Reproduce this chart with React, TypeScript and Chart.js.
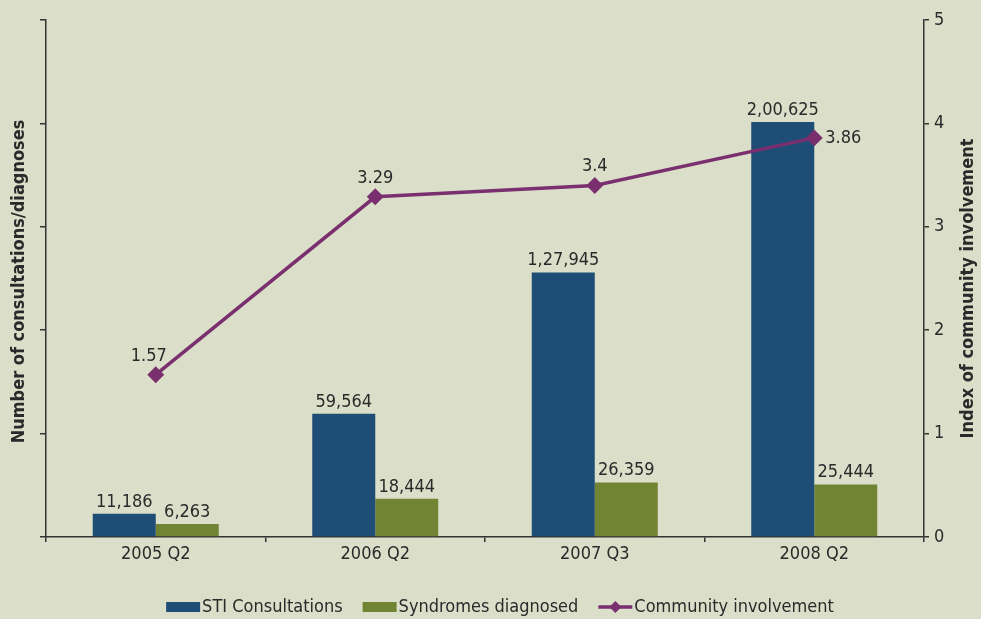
import React, { useEffect, useRef } from "react";
import { Chart, registerables } from "chart.js";

Chart.register(...registerables);

const categories = ["2005 Q2", "2006 Q2", "2007 Q3", "2008 Q2"];
const stiConsultations = [11186, 59564, 127945, 200625];
const syndromesDiagnosed = [6263, 18444, 26359, 25444];
const communityInvolvement = [1.57, 3.29, 3.4, 3.86];
const leftAxis = { min: 0, max: 250000, step: 50000 };
const rightAxis = { min: 0, max: 5, step: 1 };
const seriesNames = ["STI Consultations", "Syndromes diagnosed", "Community involvement"];
const axisTitles = ["Number of consultations/diagnoses", "Index of community involvement"];

const BG = "#dbdec9";
const BLUE = "#1e4d76";
const GREEN = "#718434";
const PURPLE = "#7a2f6e";
const TEXT = "#2a2a2a";
const AXIS = "#333333";
const FONT = "'DejaVu Sans Condensed', 'DejaVu Sans', sans-serif";
const FS = 18;

function fmtIN(n: number): string {
  const s = String(Math.round(n));
  if (s.length <= 3) return s;
  const last3 = s.slice(-3);
  let rest = s.slice(0, -3);
  const parts: string[] = [];
  while (rest.length > 2) {
    parts.unshift(rest.slice(-2));
    rest = rest.slice(0, -2);
  }
  if (rest) parts.unshift(rest);
  return parts.join(",") + "," + last3;
}

const overlayPlugin = {
  id: "overlay",
  afterDatasetsDraw(chart: any) {
    const ctx = chart.ctx;
    ctx.save();
    ctx.fillStyle = TEXT;
    ctx.font = `${FS}px ${FONT}`;
    // bar labels
    [1, 2].forEach((di) => {
      const meta = chart.getDatasetMeta(di);
      const vals = chart.data.datasets[di].data as number[];
      meta.data.forEach((el: any, i: number) => {
        ctx.textAlign = "center";
        ctx.textBaseline = "alphabetic";
        ctx.fillText(fmtIN(vals[i]), el.x, el.y - 7);
      });
    });
    // line labels
    const lm = chart.getDatasetMeta(0);
    const lv = chart.data.datasets[0].data as number[];
    lm.data.forEach((el: any, i: number) => {
      const txt = String(lv[i]);
      if (i === lv.length - 1) {
        ctx.textAlign = "left";
        ctx.textBaseline = "middle";
        ctx.fillText(txt, el.x + 11, el.y);
      } else {
        ctx.textAlign = "center";
        ctx.textBaseline = "alphabetic";
        ctx.fillText(txt, el.x - (i === 0 ? 7 : 0), el.y - 14);
      }
    });
    ctx.restore();
  },
  afterDraw(chart: any) {
    const ctx = chart.ctx;
    const ca = chart.chartArea;
    ctx.save();
    // axis titles
    ctx.fillStyle = TEXT;
    ctx.font = `bold ${FS}px ${FONT}`;
    ctx.textAlign = "center";
    ctx.textBaseline = "middle";
    const cy = (ca.top + ca.bottom) / 2;
    ctx.save();
    ctx.translate(19, cy + 3);
    ctx.rotate(-Math.PI / 2);
    ctx.fillText(axisTitles[0], 0, 0);
    ctx.restore();
    ctx.save();
    ctx.translate(968, cy + 10);
    ctx.rotate(-Math.PI / 2);
    ctx.fillText(axisTitles[1], 0, 0);
    ctx.restore();

    // legend
    ctx.font = `${FS}px ${FONT}`;
    const boxW = 34;
    const gapBT = 2;
    const gapItems = 20;
    const widths = seriesNames.map((n) => ctx.measureText(n).width);
    const total = widths.reduce((a, b) => a + b, 0) + 3 * (boxW + gapBT) + 2 * gapItems;
    let x = 500 - total / 2;
    const y = 607;
    const colors = [BLUE, GREEN, PURPLE];
    seriesNames.forEach((name, i) => {
      if (i < 2) {
        ctx.fillStyle = colors[i];
        ctx.fillRect(x, y - 5, boxW, 10);
      } else {
        ctx.strokeStyle = PURPLE;
        ctx.lineWidth = 3.5;
        ctx.beginPath();
        ctx.moveTo(x, y);
        ctx.lineTo(x + boxW, y);
        ctx.stroke();
        ctx.fillStyle = PURPLE;
        ctx.beginPath();
        const cx = x + boxW / 2;
        ctx.moveTo(cx, y - 6);
        ctx.lineTo(cx + 6, y);
        ctx.lineTo(cx, y + 6);
        ctx.lineTo(cx - 6, y);
        ctx.closePath();
        ctx.fill();
      }
      ctx.fillStyle = TEXT;
      ctx.textAlign = "left";
      ctx.textBaseline = "middle";
      ctx.fillText(name, x + boxW + gapBT, y);
      x += boxW + gapBT + widths[i] + gapItems;
    });
    ctx.restore();
  },
};

export default function App() {
  const ref = useRef<HTMLCanvasElement | null>(null);
  useEffect(() => {
    if (!ref.current) return;
    const chart = new Chart(ref.current, {
      type: "bar",
      data: {
        labels: categories,
        datasets: [
          {
            type: "line",
            label: seriesNames[2],
            data: communityInvolvement,
            yAxisID: "y1",
            borderColor: PURPLE,
            backgroundColor: PURPLE,
            borderWidth: 3.5,
            pointStyle: "rectRot",
            pointRadius: 6,
            pointBackgroundColor: PURPLE,
            pointBorderColor: PURPLE,
            order: 0,
          } as any,
          {
            type: "bar",
            label: seriesNames[0],
            data: stiConsultations,
            yAxisID: "y",
            backgroundColor: BLUE,
            categoryPercentage: 0.574,
            barPercentage: 1,
            order: 1,
          },
          {
            type: "bar",
            label: seriesNames[1],
            data: syndromesDiagnosed,
            yAxisID: "y",
            backgroundColor: GREEN,
            categoryPercentage: 0.574,
            barPercentage: 1,
            order: 1,
          },
        ],
      },
      options: {
        animation: false,
        responsive: false,
        maintainAspectRatio: false,
        layout: { padding: { top: 20, left: 0, right: 0, bottom: 0 } },
        plugins: {
          legend: { display: false },
          tooltip: { enabled: false },
          title: { display: false },
        },
        scales: {
          x: {
            offset: true,
            grid: {
              offset: true,
              drawOnChartArea: false,
              drawTicks: true,
              tickLength: 5,
              color: AXIS,
              lineWidth: 1.5,
            },
            border: { color: AXIS, width: 1.5 },
            ticks: {
              color: TEXT,
              font: { family: FONT, size: FS },
              padding: 2,
              maxRotation: 0,
            },
            afterFit: (s: any) => {
              s.height = 82;
            },
          },
          y: {
            position: "left",
            min: leftAxis.min,
            max: leftAxis.max,
            ticks: { stepSize: leftAxis.step, display: false },
            grid: {
              drawOnChartArea: false,
              drawTicks: true,
              tickLength: 6,
              color: AXIS,
              lineWidth: 1.5,
            },
            border: { color: AXIS, width: 1.5 },
            afterFit: (s: any) => {
              s.width = 46;
            },
          },
          y1: {
            position: "right",
            min: rightAxis.min,
            max: rightAxis.max,
            ticks: {
              stepSize: rightAxis.step,
              color: TEXT,
              font: { family: FONT, size: FS },
              padding: 5,
            },
            grid: {
              drawOnChartArea: false,
              drawTicks: true,
              tickLength: 5,
              color: AXIS,
              lineWidth: 1.5,
            },
            border: { color: AXIS, width: 1.5 },
            afterFit: (s: any) => {
              s.width = 57;
            },
          },
        },
      },
      plugins: [overlayPlugin],
    });
    return () => chart.destroy();
  }, []);
  return (
    <div
      style={{
        position: "fixed",
        left: 0,
        top: 0,
        width: 981,
        height: 619,
        background: BG,
      }}
    >
      <canvas ref={ref} width={981} height={619} style={{ width: 981, height: 619, display: "block" }} />
    </div>
  );
}
